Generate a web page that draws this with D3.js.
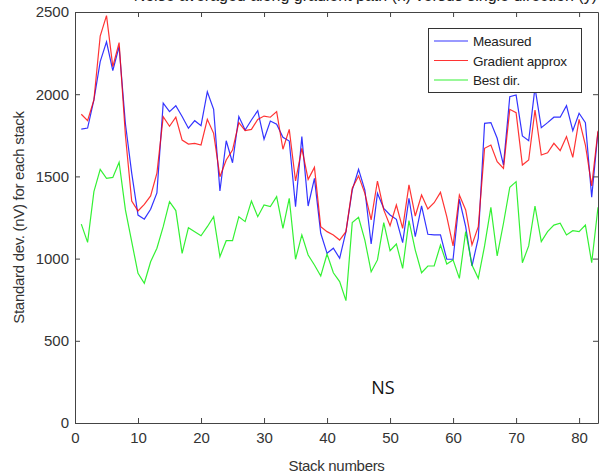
<!DOCTYPE html>
<html>
<head>
<meta charset="utf-8">
<script src="https://cdn.jsdelivr.net/npm/d3@7"></script>
<style>
  body { margin: 0; background: #fff; }
  svg { font-family: "Liberation Sans", Arial, sans-serif; }
</style>
</head>
<body>
<svg width="599" height="475"></svg>
<script>
// values, stack 1..83
var measured = [1788,1794,1965,2198,2318,2143,2289,1820,1520,1265,1240,1300,1400,1945,1894,1930,1864,1793,1839,1809,
  2015,1908,1411,1717,1583,1864,1782,1843,1900,1726,1837,1817,1738,1715,1316,1742,1320,1488,1154,1032,
  1063,1002,1164,1417,1543,1417,1089,1397,1306,1265,1239,1097,1367,1133,1320,1148,1144,1144,996,996,
  1361,1194,955,1124,1823,1827,1732,1569,1985,1995,1746,1717,2040,1796,1827,1860,1860,1930,1778,1884,
  1827,1373,1772];
var gradient = [1878,1839,1965,2354,2478,2168,2314,1750,1350,1290,1330,1381,1520,1863,1805,1860,1721,1697,1701,1691,
  1847,1762,1498,1600,1660,1827,1778,1786,1847,1867,1860,1894,1665,1786,1472,1671,1482,1555,1194,1164,
  1144,1113,1164,1428,1503,1397,1235,1472,1296,1200,1326,1184,1448,1259,1387,1302,1340,1403,1255,1077,
  1387,1296,1083,1194,1671,1691,1590,1549,1908,1888,1569,1600,1904,1630,1644,1701,1657,1742,1616,1847,
  1691,1442,1778];
var bestDir = [1210,1099,1407,1543,1488,1494,1586,1296,1103,910,850,981,1063,1194,1346,1292,1032,1188,1164,1139,
  1194,1255,1012,1109,1109,1255,1225,1350,1255,1326,1316,1377,1184,1367,996,1144,1022,961,894,1028,
  914,860,744,1219,1251,1113,920,992,1219,1048,1089,941,1231,1052,914,955,955,1083,967,992,
  880,1164,961,880,1077,1312,1016,1215,1434,1468,975,1077,1320,1103,1164,1204,1215,1144,1170,1164,
  1204,975,1312];
var seriesNames = ["Measured", "Gradient approx", "Best dir."];
var seriesColors = ["#0000ff", "#ff0000", "#00ee00"];
var xTicks = [0,10,20,30,40,50,60,70,80];
var yTicks = [0,500,1000,1500,2000,2500];

var svg = d3.select("svg"),
    padL = 75, padR = 598, padT = 12, padB = 423;

var x = d3.scaleLinear().domain([0, 83]).range([padL, padR]);
var y = d3.scaleLinear().domain([0, 2500]).range([padB, padT]);

// title (only its descenders show above the plot)
svg.append("text")
    .attr("x", 597).attr("y", 0.5)
    .attr("text-anchor", "end")
    .style("font-size", "16px").style("fill", "#222")
    .text("Noise averaged along gradient path (n) versus single direction (y)");

svg.append("defs").append("clipPath").attr("id", "clip")
  .append("rect").attr("x", padL).attr("y", padT).attr("width", padR - padL).attr("height", padB - padT);

var line = d3.line()
    .x(function(d, i) { return x(i + 1); })
    .y(function(d) { return y(d); });

var g = svg.append("g").attr("clip-path", "url(#clip)");
[measured, gradient, bestDir].forEach(function(s, k) {
    g.append("path")
        .datum(s)
        .attr("d", line)
        .attr("fill", "none")
        .attr("stroke", seriesColors[k])
        .attr("stroke-opacity", 0.8)
        .attr("stroke-width", 1.2);
});

// axes, matlab style box with inward ticks
var axCol = "#444";
function styleAxis(sel) {
    sel.select(".domain").attr("stroke", axCol);
    sel.selectAll(".tick line").attr("stroke", axCol);
    sel.selectAll("text").style("font-size", "15px").style("fill", "#333")
        .style("font-family", "'Liberation Sans', Arial, sans-serif");
}
svg.append("g").attr("transform", "translate(0," + padB + ")")
    .call(d3.axisBottom(x).tickValues(xTicks).tickFormat(d3.format("d")).tickSizeInner(-5).tickSizeOuter(0).tickPadding(9))
    .call(styleAxis);
svg.append("g").attr("transform", "translate(" + padL + ",0)")
    .call(d3.axisLeft(y).tickValues(yTicks).tickFormat(d3.format("d")).tickSizeInner(-5).tickSizeOuter(0).tickPadding(6))
    .call(styleAxis);
svg.append("g").attr("transform", "translate(0," + padT + ")")
    .call(d3.axisTop(x).tickValues(xTicks).tickSizeInner(-5).tickSizeOuter(0).tickFormat(""))
    .call(styleAxis);
svg.append("g").attr("transform", "translate(" + padR + ",0)")
    .call(d3.axisRight(y).tickValues(yTicks).tickSizeInner(-5).tickSizeOuter(0).tickFormat(""))
    .call(styleAxis);

// axis labels
svg.append("text")
    .attr("x", x(41.5)).attr("y", 471)
    .attr("text-anchor", "middle")
    .style("font-size", "15px").style("fill", "#333").style("letter-spacing", "-0.3px")
    .text("Stack numbers");
svg.append("text")
    .attr("transform", "translate(24," + y(1250) + ") rotate(-90)")
    .attr("text-anchor", "middle")
    .style("font-size", "15px").style("fill", "#333").style("letter-spacing", "-0.3px")
    .text("Standard dev. (nV) for each stack");

svg.append("text")
    .attr("x", 383).attr("y", 394)
    .attr("text-anchor", "middle")
    .style("font-size", "18px").style("fill", "#111")
    .style("font-family", "'Open Sans', sans-serif")
    .text("NS");

// legend
var lg = svg.append("g");
lg.append("rect").attr("x", 428.5).attr("y", 28.5).attr("width", 153).attr("height", 64)
    .attr("fill", "#fff").attr("stroke", "#333").attr("stroke-width", 1);
seriesNames.forEach(function(n, k) {
    var yy = 41 + k * 19.5;
    lg.append("line").attr("x1", 434).attr("x2", 468).attr("y1", yy).attr("y2", yy)
        .attr("stroke", seriesColors[k]).attr("stroke-opacity", 0.8).attr("stroke-width", 1.2);
    lg.append("text").attr("x", 473).attr("y", yy + 5)
        .style("font-size", "13.5px").style("fill", "#222").style("letter-spacing", "-0.2px")
        .text(n);
});
</script>
</body>
</html>
